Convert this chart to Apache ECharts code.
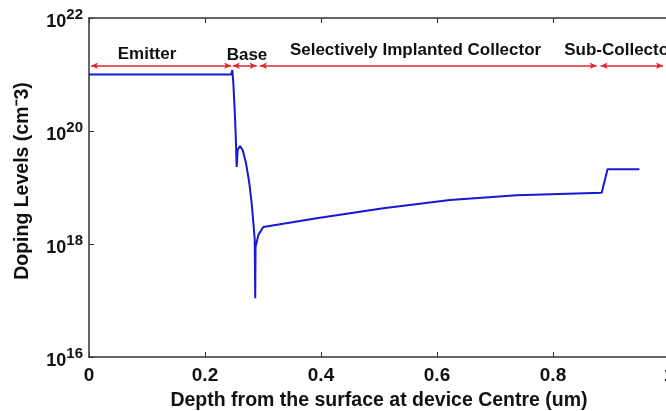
<!DOCTYPE html>
<html>

<head>
    <meta charset="utf-8">
    <title>doping profile</title>
    <style>
        html, body {
            margin: 0;
            padding: 0;
            background: #fff;
        }
    </style>
</head>

<body>
    <div id="main" style="width: 666px;height:411px;"></div>
    <script src="https://cdn.jsdelivr.net/npm/echarts@6/dist/echarts.min.js"></script>

    <script>
        // depth (um) and doping level (cm^-3), read from the profile
        var depth = [0, 0.245, 0.2471, 0.2489, 0.2517, 0.2534, 0.2546, 0.2563, 0.2603, 0.265,
            0.2707, 0.2764, 0.2805, 0.284, 0.2857, 0.2866, 0.2872, 0.292, 0.3005, 0.3926,
            0.5074, 0.6224, 0.7374, 0.884, 0.894, 0.949];
        var doping = [1.0e21, 1.0e21, 1.2e21, 6.9e20, 1.8e20, 6.0e19, 2.3e19, 4.6e19, 5.4e19, 4.6e19,
            2.7e19, 1.2e19, 5.2e18, 2.0e18, 1.2e18, 1.1e17, 8.9e17, 1.45e18, 2.0e18, 2.85e18,
            4.3e18, 6.0e18, 7.3e18, 8.1e18, 2.1e19, 2.1e19];

        // device regions (um)
        var regionNames = ['Emitter', 'Base', 'Selectively Implanted Collector', 'Sub-Collector'];
        var regionStart = [0.0035, 0.248, 0.2948, 0.8822];
        var regionEnd = [0.245, 0.289, 0.8753, 0.9897];

        var xTicks = [0, 0.2, 0.4, 0.6, 0.8, 1];

        // where the region names and arrows sit
        var arrowLevel = 1.43e21;
        var labelX = [0.1, 0.2724, 0.563, 0.9155];
        var labelLevel = [2.3e21, 2.15e21, 2.72e21, 2.72e21];

        var profile = depth.map(function (d, i) {
            return [d, doping[i]];
        });
        var arrows = regionNames.map(function (n, i) {
            return [{ coord: [regionStart[i], arrowLevel] }, { coord: [regionEnd[i], arrowLevel] }];
        });
        var labels = regionNames.map(function (n, i) {
            return { name: n, value: [labelX[i], labelLevel[i]] };
        });

        var myChart = echarts.init(document.getElementById('main'));
        var axisColor = '#333';
        var textColor = '#111';
        var font = 'Liberation Sans, Arial, sans-serif';

        var xCommon = {
            type: 'value',
            min: xTicks[0],
            max: xTicks[xTicks.length - 1],
            interval: 0.2,
            splitLine: { show: false },
            axisLine: { onZero: false, lineStyle: { color: axisColor, width: 1.5 } },
            axisTick: { inside: true, length: 5, lineStyle: { color: axisColor, width: 1 } }
        };

        option = {
            backgroundColor: '#fff',
            animation: false,
            grid: {
                left: 89,
                right: -3,
                top: 18,
                bottom: 54,
                outerBoundsMode: 'none',
                containLabel: false
            },
            xAxis: [
                Object.assign({}, xCommon, {
                    position: 'bottom',
                    name: 'Depth from the surface at device Centre (um)',
                    nameLocation: 'middle',
                    nameGap: 34,
                    nameTextStyle: { fontFamily: font, fontWeight: 'bold', fontSize: 19.5, color: textColor },
                    axisLabel: {
                        margin: 9,
                        fontFamily: font,
                        fontWeight: 'bold',
                        fontSize: 19,
                        color: textColor,
                        formatter: function (v) {
                            return String(+v.toFixed(1));
                        }
                    }
                }),
                Object.assign({}, xCommon, {
                    position: 'top',
                    axisLabel: { show: false }
                })
            ],
            yAxis: {
                type: 'log',
                logBase: 10,
                min: 1e16,
                max: 1e22,
                interval: 2,
                splitLine: { show: false },
                axisLine: { show: true, lineStyle: { color: axisColor, width: 1.5 } },
                axisTick: { show: true, inside: true, length: 5, lineStyle: { color: axisColor, width: 1 } },
                name: 'Doping Levels (cm\u207B3)',
                nameLocation: 'middle',
                nameRotate: 90,
                nameGap: 56,
                nameTextStyle: { fontFamily: font, fontWeight: 'bold', fontSize: 19.5, color: textColor, padding: [0, 0, 0, 13] },
                axisLabel: {
                    margin: 6,
                    formatter: function (v) {
                        var e = Math.round(Math.log10(v));
                        return '{b|10}{s|' + e + '}';
                    },
                    rich: {
                        b: { fontFamily: font, fontWeight: 'bold', fontSize: 18, color: textColor, lineHeight: 26, verticalAlign: 'bottom' },
                        s: { fontFamily: font, fontWeight: 'bold', fontSize: 15, color: textColor, lineHeight: 18, verticalAlign: 'top', padding: [2, 0, 0, 0] }
                    }
                }
            },
            series: [{
                    name: 'profile',
                    type: 'line',
                    data: profile,
                    symbol: 'none',
                    lineStyle: { color: '#1717d4', width: 2 },
                    z: 3
                },
                {
                    name: 'regions',
                    type: 'line',
                    data: [],
                    markLine: {
                        silent: true,
                        symbol: ['arrow', 'arrow'],
                        symbolSize: [5, 7],
                        label: { show: false },
                        lineStyle: { color: '#e3262b', width: 1.5, type: 'solid' },
                        data: arrows
                    }
                },
                {
                    name: 'names',
                    type: 'scatter',
                    symbolSize: 0,
                    silent: true,
                    itemStyle: { opacity: 1 },
                    data: labels,
                    label: {
                        show: true,
                        position: 'inside',
                        formatter: '{b}',
                        fontFamily: font,
                        fontWeight: 'bold',
                        fontSize: 17,
                        color: textColor,
                        opacity: 1
                    }
                }
            ]
        };

        myChart.setOption(option);
    </script>


</body>

</html>
